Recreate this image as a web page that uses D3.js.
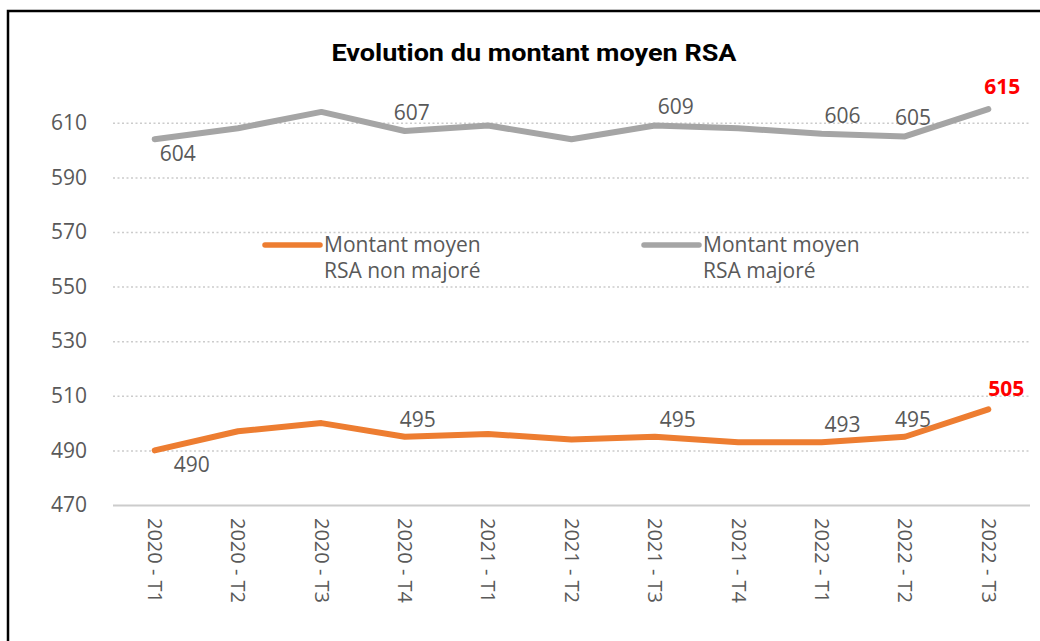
<!DOCTYPE html>
<html>
<head>
<meta charset="utf-8">
<script src="https://cdn.jsdelivr.net/npm/d3@7"></script>
<style>
  body { margin: 0; background: #fff; }
  text { font-family: "Open Sans", "DejaVu Sans", sans-serif; }
</style>
</head>
<body>
<div id="chart"></div>
<script>
// quarterly average RSA amount, two series
const categories = ["2020 - T1", "2020 - T2", "2020 - T3", "2020 - T4", "2021 - T1", "2021 - T2",
  "2021 - T3", "2021 - T4", "2022 - T1", "2022 - T2", "2022 - T3"];
const rsaNonMajore = [490, 497, 500, 495, 496, 494, 495, 493, 493, 495, 505];
const rsaMajore = [604, 608, 614, 607, 609, 604, 609, 608, 606, 605, 615];
const yTicks = [470, 490, 510, 530, 550, 570, 590, 610];
const legendNonMajore = ["Montant moyen", "RSA non majoré"];
const legendMajore = ["Montant moyen", "RSA majoré"];
const titleText = "Evolution du montant moyen RSA";

const W = 1040, H = 641;
const GREY = "#A5A5A5", ORANGE = "#ED7D31", TXT = "#595959";

// which points carry a value label, and how far the label sits from the point
const labelsMajore = [
  { i: 0, dx: 23, dy: 22 }, { i: 3, dx: 7, dy: -11 }, { i: 6, dx: 21, dy: -12 },
  { i: 8, dx: 21, dy: -11 }, { i: 9, dx: 8, dy: -11 }, { i: 10, dx: 14, dy: -15 }
];
const labelsNonMajore = [
  { i: 0, dx: 37, dy: 22 }, { i: 3, dx: 13, dy: -10 }, { i: 6, dx: 23, dy: -10 },
  { i: 8, dx: 21, dy: -10 }, { i: 9, dx: 8, dy: -10 }, { i: 10, dx: 18, dy: -13 }
];

function drawChart() {
  const svg = d3.select("#chart").append("svg")
    .attr("width", W)
    .attr("height", H);

  svg.append("rect").attr("width", W).attr("height", H).attr("fill", "#fff");

  // frame (only top and left edges are visible in the window)
  svg.append("path")
    .attr("d", `M8,${H + 5} L8,11 L${W + 5},11`)
    .attr("fill", "none")
    .attr("stroke", "#000")
    .attr("stroke-width", 2.5);

  const x = d3.scalePoint().domain(categories).range([113, 1030]).padding(0.5);
  const y = d3.scaleLinear().domain([470, 620]).range([505, 505 - 150 * 54.6 / 20]);

  // y axis + dotted gridlines
  const yAxis = svg.append("g")
    .attr("transform", "translate(113,0)")
    .call(d3.axisLeft(y).tickValues(yTicks).tickSize(-(1030 - 113)).tickPadding(26));
  yAxis.select(".domain").remove();
  yAxis.selectAll(".tick line")
    .attr("stroke", "#CCCCCC")
    .attr("stroke-dasharray", d => d === 470 ? null : "2,2.5")
    .attr("stroke-width", d => d === 470 ? 2 : 1.5);
  yAxis.selectAll(".tick text")
    .attr("fill", TXT)
    .style("font-size", "21px");

  // x axis, labels turned to read downwards
  const xAxis = svg.append("g")
    .attr("transform", "translate(0,505)")
    .call(d3.axisBottom(x).tickSize(0));
  xAxis.select(".domain").remove();
  xAxis.selectAll(".tick text")
    .attr("transform", "rotate(90)")
    .attr("text-anchor", "start")
    .attr("x", 13)
    .attr("y", 0)
    .attr("dy", "0.36em")
    .attr("fill", TXT)
    .style("font-size", "20px");

  const line = d3.line()
    .x((d, i) => x(categories[i]))
    .y(d => y(d));

  const series = [
    { values: rsaMajore, color: GREY, labels: labelsMajore },
    { values: rsaNonMajore, color: ORANGE, labels: labelsNonMajore }
  ];

  series.forEach(s => {
    svg.append("path")
      .datum(s.values)
      .attr("d", line)
      .attr("fill", "none")
      .attr("stroke", s.color)
      .attr("stroke-width", 6)
      .attr("stroke-linecap", "round")
      .attr("stroke-linejoin", "round");

    const last = s.values.length - 1;
    svg.append("g").selectAll("text")
      .data(s.labels)
      .enter()
      .append("text")
      .attr("x", d => x(categories[d.i]) + d.dx)
      .attr("y", d => y(s.values[d.i]) + d.dy)
      .attr("text-anchor", "middle")
      .attr("fill", d => d.i === last ? "#FF0000" : TXT)
      .attr("font-weight", d => d.i === last ? "bold" : "normal")
      .style("font-size", "21px")
      .text(d => s.values[d.i]);
  });

  // legend
  const legendItems = [
    { lines: legendNonMajore, color: ORANGE, x: 265 },
    { lines: legendMajore, color: GREY, x: 644 }
  ];
  legendItems.forEach(item => {
    const g = svg.append("g").attr("transform", `translate(${item.x},245)`);
    g.append("line")
      .attr("x1", 0).attr("x2", 55)
      .attr("stroke", item.color)
      .attr("stroke-width", 5.5)
      .attr("stroke-linecap", "round");
    g.selectAll("text")
      .data(item.lines)
      .enter()
      .append("text")
      .attr("x", 59)
      .attr("y", (d, i) => 7 + i * 26)
      .attr("fill", TXT)
      .style("font-size", "21px")
      .text(d => d);
  });

  // title
  svg.append("text")
    .attr("x", 534)
    .attr("y", 61)
    .attr("text-anchor", "middle")
    .attr("font-weight", "bold")
    .attr("fill", "#000")
    .attr("textLength", 405)
    .attr("lengthAdjust", "spacingAndGlyphs")
    .style("font-size", "23px")
    .style("font-family", "Roboto, 'Open Sans', sans-serif")
    .text(titleText);
}

document.addEventListener("DOMContentLoaded", drawChart);
</script>
</body>
</html>
